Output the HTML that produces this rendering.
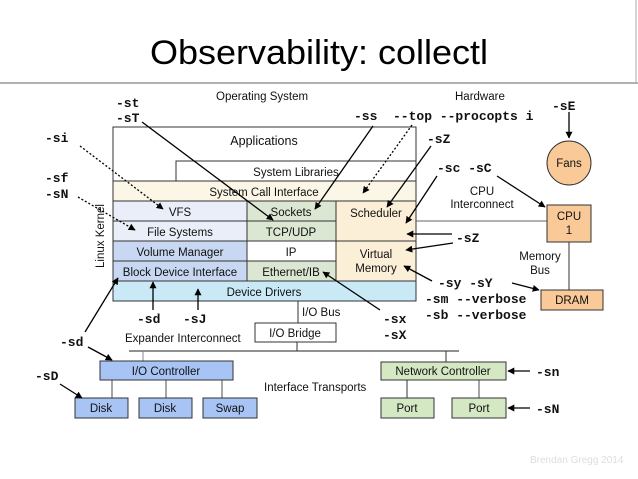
<!DOCTYPE html>
<html><head><meta charset="utf-8"><style>
html,body{margin:0;padding:0;background:#fff;}
svg{display:block;}
.s{font-family:"Liberation Sans",sans-serif;font-size:11.5px;fill:#111;}
.m{font-family:"Liberation Mono",monospace;font-size:13px;font-weight:bold;fill:#111;}
</style></head><body>
<svg width="638" height="479" viewBox="0 0 638 479" xmlns="http://www.w3.org/2000/svg">
<defs>
<marker id="a" viewBox="0 0 10 10" refX="9" refY="5" markerWidth="7" markerHeight="7" orient="auto" markerUnits="userSpaceOnUse"><path d="M0,0 L10,5 L0,10 z" fill="#000"/></marker>
</defs>
<rect width="638" height="479" fill="#fff"/>
<text x="150" y="64" font-family="Liberation Sans,sans-serif" font-size="34" fill="#000" textLength="338" lengthAdjust="spacingAndGlyphs">Observability: collectl</text>
<line x1="0" y1="83" x2="638" y2="83" stroke="#666" stroke-width="1"/>
<line x1="636" y1="0" x2="636" y2="83" stroke="#aaa" stroke-width="1"/>

<text class="s" x="216" y="100">Operating System</text>
<text class="s" x="455" y="100">Hardware</text>

<g stroke="#333" stroke-width="1">
<rect x="113" y="127" width="303" height="174" fill="#fff"/>
<rect x="176" y="161" width="240" height="20" fill="#fff"/>
<rect x="113" y="181" width="303" height="20" fill="#fbf6e6"/>
<rect x="113" y="201" width="134" height="20" fill="#e9eef8"/>
<rect x="113" y="221" width="134" height="20" fill="#e9eef8"/>
<rect x="113" y="241" width="134" height="20" fill="#c9d8f2"/>
<rect x="113" y="261" width="134" height="20" fill="#c9d8f2"/>
<rect x="247" y="201" width="89" height="20" fill="#dbe7d3"/>
<rect x="247" y="221" width="89" height="20" fill="#dbe7d3"/>
<rect x="247" y="241" width="89" height="20" fill="#fff"/>
<rect x="247" y="261" width="89" height="20" fill="#dbe7d3"/>
<rect x="336" y="201" width="80" height="40" fill="#fcefd8"/>
<rect x="336" y="241" width="80" height="40" fill="#fcefd8"/>
<rect x="113" y="281" width="303" height="20" fill="#c9e9f6"/>
</g>
<g class="s" text-anchor="middle">
<text x="264" y="145" font-size="12.5">Applications</text>
<text x="296" y="176">System Libraries</text>
<text x="264" y="196">System Call Interface</text>
<text x="180" y="216">VFS</text>
<text x="180" y="236">File Systems</text>
<text x="180" y="256">Volume Manager</text>
<text x="180" y="276">Block Device Interface</text>
<text x="291" y="216">Sockets</text>
<text x="291" y="236">TCP/UDP</text>
<text x="291" y="256">IP</text>
<text x="291" y="276">Ethernet/IB</text>
<text x="376" y="217">Scheduler</text>
<text x="376" y="258">Virtual</text>
<text x="376" y="272">Memory</text>
<text x="264" y="296">Device Drivers</text>
</g>
<text class="s" transform="translate(104,236) rotate(-90)" text-anchor="middle">Linux Kernel</text>

<line x1="416" y1="221" x2="547" y2="221" stroke="#666"/>
<line x1="569" y1="242" x2="569" y2="290" stroke="#333"/>
<circle cx="569" cy="163" r="22" fill="#f9c998" stroke="#333"/>
<rect x="547" y="205" width="44" height="37" fill="#f9c998" stroke="#333"/>
<rect x="541" y="290" width="62" height="20" fill="#f9c998" stroke="#333"/>
<g class="s" text-anchor="middle">
<text x="569" y="167">Fans</text>
<text x="569" y="220">CPU</text>
<text x="569" y="234">1</text>
<text x="572" y="304">DRAM</text>
<text x="482" y="195">CPU</text>
<text x="482" y="208">Interconnect</text>
<text x="540" y="260">Memory</text>
<text x="540" y="274">Bus</text>
</g>

<line x1="298" y1="301" x2="298" y2="323" stroke="#333"/>
<text class="s" x="302" y="316">I/O Bus</text>
<rect x="255" y="323" width="81" height="19" fill="#fff" stroke="#333"/>
<text class="s" x="295" y="337" text-anchor="middle">I/O Bridge</text>
<line x1="297" y1="342" x2="297" y2="351" stroke="#333"/>
<line x1="129" y1="351" x2="459" y2="351" stroke="#222"/>
<text class="s" x="125" y="342">Expander Interconnect</text>
<line x1="143" y1="351" x2="143" y2="361" stroke="#888"/>
<line x1="446" y1="351" x2="446" y2="362" stroke="#333"/>
<g stroke="#888" stroke-width="1.5">
<line x1="112" y1="380" x2="112" y2="398"/><line x1="166" y1="380" x2="166" y2="398"/><line x1="222" y1="380" x2="222" y2="398"/>
<line x1="479" y1="380" x2="479" y2="398"/>
</g>
<line x1="407" y1="380" x2="407" y2="398" stroke="#333"/>
<g stroke="#333">
<rect x="100" y="361" width="133" height="19" fill="#a7c4f5"/>
<rect x="75" y="398" width="53" height="20" fill="#a7c4f5"/>
<rect x="139" y="398" width="53" height="20" fill="#a7c4f5"/>
<rect x="203" y="398" width="54" height="20" fill="#a7c4f5"/>
<rect x="381" y="362" width="125" height="18" fill="#d5e8c4"/>
<rect x="381" y="398" width="53" height="20" fill="#d5e8c4"/>
<rect x="452" y="398" width="54" height="20" fill="#d5e8c4"/>
</g>
<g class="s" text-anchor="middle">
<text x="166" y="375">I/O Controller</text>
<text x="101" y="412">Disk</text>
<text x="165" y="412">Disk</text>
<text x="230" y="412">Swap</text>
<text x="443" y="375">Network Controller</text>
<text x="407" y="412">Port</text>
<text x="479" y="412">Port</text>
</g>
<text class="s" x="264" y="391">Interface Transports</text>
<text x="530" y="463" font-family="Liberation Sans,sans-serif" font-size="10" fill="#ddd">Brendan Gregg 2014</text>

<g class="m">
<text x="116" y="107">-st</text>
<text x="116" y="122">-sT</text>
<text x="354" y="120" xml:space="preserve">-ss  --top --procopts i</text>
<text x="552" y="110">-sE</text>
<text x="427" y="143">-sZ</text>
<text x="437" y="172" xml:space="preserve">-sc -sC</text>
<text x="456" y="242">-sZ</text>
<text x="438" y="287" xml:space="preserve">-sy -sY</text>
<text x="425" y="303" xml:space="preserve">-sm --verbose</text>
<text x="425" y="319" xml:space="preserve">-sb --verbose</text>
<text x="45" y="142">-si</text>
<text x="45" y="182">-sf</text>
<text x="45" y="198">-sN</text>
<text x="137" y="323">-sd</text>
<text x="183" y="323">-sJ</text>
<text x="383" y="323">-sx</text>
<text x="383" y="339">-sX</text>
<text x="60" y="346">-sd</text>
<text x="35" y="380">-sD</text>
<text x="536" y="376">-sn</text>
<text x="536" y="413">-sN</text>
</g>

<g stroke="#000" stroke-width="1.3" fill="none" marker-end="url(#a)">
<line x1="142" y1="122" x2="273" y2="220"/>
<line x1="373" y1="126" x2="315" y2="209"/>
<line x1="412" y1="125" x2="363" y2="193" stroke-dasharray="2,2"/>
<line x1="431" y1="146" x2="387" y2="207"/>
<line x1="437" y1="176" x2="406" y2="223"/>
<line x1="497" y1="176" x2="545" y2="207"/>
<line x1="452" y1="234" x2="407" y2="234"/>
<line x1="453" y1="243" x2="406" y2="250"/>
<line x1="432" y1="281" x2="404" y2="266"/>
<line x1="512" y1="283" x2="539" y2="290"/>
<line x1="569" y1="112" x2="569" y2="138"/>
<line x1="80" y1="146" x2="163" y2="209" stroke-dasharray="2,2"/>
<line x1="78" y1="197" x2="135" y2="230" stroke-dasharray="2,2"/>
<line x1="153" y1="310" x2="153" y2="282"/>
<line x1="198" y1="310" x2="198" y2="289"/>
<line x1="380" y1="310" x2="323" y2="272"/>
<line x1="85" y1="332" x2="118" y2="278"/>
<line x1="88" y1="347" x2="112" y2="360"/>
<line x1="60" y1="384" x2="82" y2="398"/>
<line x1="530" y1="371" x2="508" y2="371"/>
<line x1="530" y1="408" x2="508" y2="408"/>
</g>
</svg>
</body></html>
